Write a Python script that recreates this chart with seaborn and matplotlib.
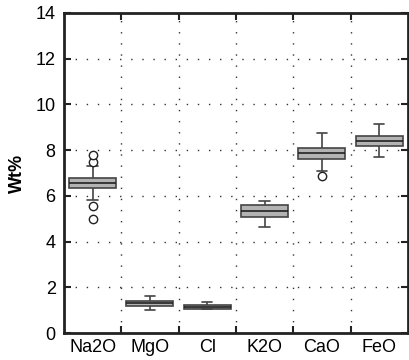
import numpy as np
import pandas as pd
import matplotlib
matplotlib.use("Agg")
import matplotlib.pyplot as plt
import seaborn as sns

# ---- data (Wt%) ----
categories = ["Na2O", "MgO", "Cl", "K2O", "CaO", "FeO"]
whis_lo = [5.82, 1.02, 1.04, 4.65, 7.10, 7.71]
q1      = [6.33, 1.18, 1.05, 5.06, 7.63, 8.17]
median  = [6.58, 1.30, 1.12, 5.32, 7.87, 8.39]
q3      = [6.79, 1.40, 1.24, 5.60, 8.10, 8.62]
whis_hi = [7.30, 1.63, 1.34, 5.79, 8.74, 9.16]
outliers_lo = [[5.57, 4.97], [], [], [], [6.86], []]
outliers_hi = [[7.50, 7.80], [], [], [], [], []]
yticks = [0, 2, 4, 6, 8, 10, 12, 14]

# build samples that reproduce the read quartiles / whiskers / outliers
rows = []
for i, c in enumerate(categories):
    sample = (outliers_lo[i] + [whis_lo[i]] + [q1[i]] * 20 + [median[i]] * 5
              + [q3[i]] * 20 + [whis_hi[i]] + outliers_hi[i])
    rows += [(c, v) for v in sample]
df = pd.DataFrame(rows, columns=["oxide", "wt"])

sns.set_theme(style="white")
plt.rcParams["font.family"] = ["Liberation Sans", "DejaVu Sans"]
plt.rcParams["text.color"] = "black"
plt.rcParams["xtick.color"] = "black"
plt.rcParams["ytick.color"] = "black"
plt.rcParams["axes.labelcolor"] = "black"

fig = plt.figure(figsize=(4.1, 3.6), dpi=100)
ax = fig.add_axes([0.156, 0.075, 0.839, 0.889])

sns.boxplot(data=df, x="oxide", y="wt", order=categories, ax=ax,
            width=0.82, color="#b3b3b3", linecolor="#444444", linewidth=1.2,
            fliersize=6, whis=1.5, capwidths=0.18,
            flierprops=dict(marker="o", markerfacecolor="white",
                            markeredgecolor="#222222", markeredgewidth=1.0),
            medianprops=dict(color="#222222", linewidth=1.2))

ax.set_xlim(-0.5, len(categories) - 0.5)
ax.set_ylim(0, 14)
ax.set_yticks(yticks)
ax.set_yticklabels([str(t) for t in yticks], fontsize=13)
ax.set_xticks(range(len(categories)))
ax.set_xticklabels(categories, fontsize=13)
ax.set_xticks(np.arange(0.5, len(categories) - 0.5, 1.0), minor=True)
ax.tick_params(axis="x", which="major", length=0, pad=4)
ax.tick_params(axis="x", which="minor", direction="in", length=5, width=1.5,
               top=True, bottom=True, color="#222222")
ax.tick_params(axis="y", which="major", direction="in", length=5, width=1.5,
               left=True, right=True, color="#222222", pad=6)
ax.grid(False)
ax.grid(True, axis="y", which="major", linestyle=(0, (1, 7)), color="#333333", linewidth=1.0)
ax.grid(True, axis="x", which="minor", linestyle=(0, (1, 7)), color="#333333", linewidth=1.0)
ax.set_axisbelow(True)
for s in ax.spines.values():
    s.set_visible(True)
    s.set_color("#222222")
    s.set_linewidth(2.0)
ax.set_xlabel("")
ax.set_ylabel("Wt%", fontsize=13, fontweight="bold", labelpad=7)

fig.savefig("out.png", dpi=100)
